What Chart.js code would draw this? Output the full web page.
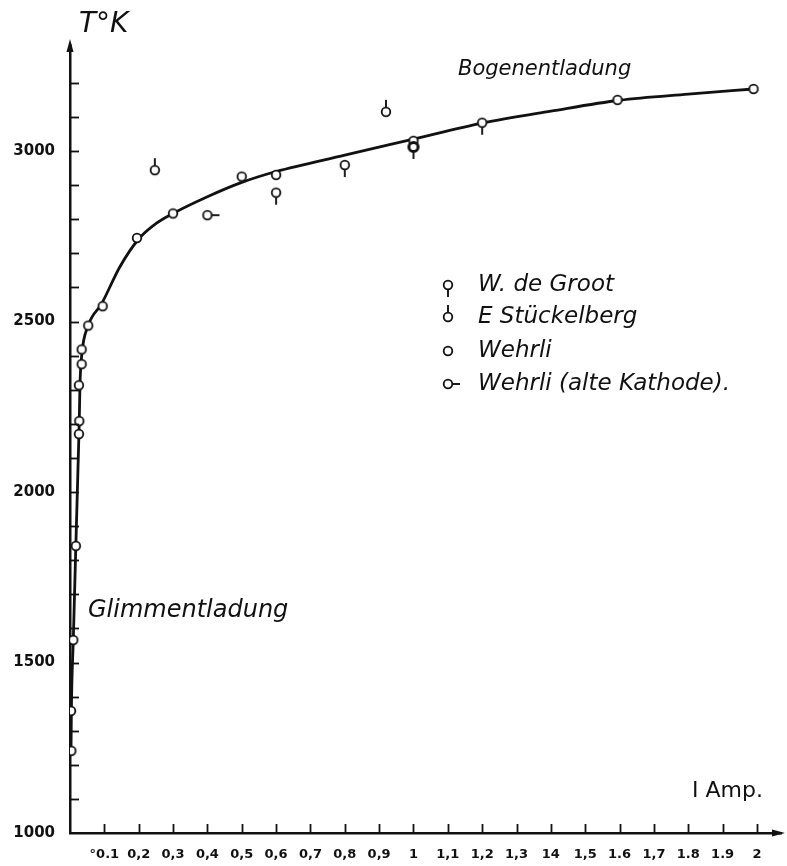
<!DOCTYPE html>
<html>
<head>
<meta charset="utf-8">
<title>T °K gegen I Amp.</title>
<script src="https://cdn.jsdelivr.net/npm/chart.js@4.4.0/dist/chart.umd.min.js"></script>
<style>
    html, body { margin: 0; padding: 0; background: #fff; }
    #wrap { position: relative; width: 787px; height: 866px; }
</style>
</head>
<body>
<div id="wrap"><canvas id="chart"></canvas></div>
<script>
// Tick labels as lettered on the original drawing
const xTickLabels = ['°0.1', '0,2', '0,3', '0,4', '0,5', '0,6', '0,7', '0,8', '0,9', '1',
    '1,1', '1,2', '1,3', '14', '1,5', '1.6', '1,7', '1.8', '1.9', '2'];
const yLabelValues = [1000, 1500, 2000, 2500, 3000];

// Drawn curve
const curveI = [0.003, 0.004, 0.0096, 0.017, 0.026, 0.027, 0.029, 0.034, 0.053, 0.092, 0.145, 0.2, 0.25, 0.3,
    0.4, 0.5, 0.6, 0.8, 1.0, 1.2, 1.4, 1.6, 1.8, 1.99];
const curveT = [1241, 1358, 1566, 1842, 2170, 2210, 2313, 2400, 2488, 2552, 2660, 2742, 2787, 2817,
    2866, 2908, 2940, 2988, 3035, 3082, 3117, 3149, 3167, 3182];

// Measured points
const wehrliI = [0.004, 0.003, 0.0096, 0.017, 0.026, 0.027, 0.026, 0.034, 0.034, 0.053, 0.095, 0.195, 0.3, 0.5, 0.6, 1.0, 1.594, 1.99];
const wehrliT = [1241, 1358, 1566, 1842, 2170, 2208, 2313, 2375, 2418, 2488, 2545, 2745, 2817, 2925, 2930, 3030, 3150, 3182];
const grootI = [0.6, 0.8, 1.0, 1.2];
const grootT = [2878, 2959, 3012, 3083];
const stueckI = [0.247, 0.92];
const stueckT = [2944, 3115];
const altI = [0.4];
const altT = [2812];

const seriesNames = ['W. de Groot', 'E Stückelberg', 'Wehrli', 'Wehrli (alte Kathode).'];

const INK = '#111';

function toXY(xs, ys) {
    return xs.map((x, i) => ({ x: x, y: ys[i] }));
}

// Circle marker with a little stem, like the hand drawn symbols
function makeMarker(stem, bold) {
    const c = document.createElement('canvas');
    c.width = 32;
    c.height = 32;
    const g = c.getContext('2d');
    g.strokeStyle = INK;
    g.lineWidth = 1.9;
    g.beginPath();
    if (stem === 'down') { g.moveTo(16, 20); g.lineTo(16, 28); }
    if (stem === 'up') { g.moveTo(16, 12); g.lineTo(16, 4); }
    if (stem === 'right') { g.moveTo(20, 16); g.lineTo(28, 16); }
    g.stroke();
    g.fillStyle = '#fff';
    g.lineWidth = bold ? 3 : 1.8;
    g.beginPath();
    g.arc(16, 16, bold ? 4.6 : 4.3, 0, Math.PI * 2);
    g.fill();
    g.stroke();
    return c;
}

const markers = [makeMarker('down'), makeMarker('up'), makeMarker(null), makeMarker('right')];
const boldGroot = makeMarker('down', true);

// Ticks, arrows, legend and the hand lettering
const decorations = {
    id: 'decorations',
    afterDraw(chart) {
        const ctx = chart.ctx;
        const x = chart.scales.x;
        const y = chart.scales.y;
        const left = chart.chartArea.left;
        const bottom = chart.chartArea.bottom;
        ctx.save();
        ctx.strokeStyle = INK;
        ctx.fillStyle = INK;
        ctx.lineWidth = 1.8;

        // inward ticks
        for (let v = 1100; v <= 3200; v += 100) {
            const py = Math.round(y.getPixelForValue(v)) + 0.5;
            ctx.beginPath();
            ctx.moveTo(left, py);
            ctx.lineTo(left + 9, py);
            ctx.stroke();
        }
        for (let k = 1; k <= xTickLabels.length; k++) {
            const px = Math.round(x.getPixelForValue(k / 10)) + 0.5;
            ctx.beginPath();
            ctx.moveTo(px, bottom);
            ctx.lineTo(px, bottom - 9);
            ctx.stroke();
        }

        // arrow heads
        ctx.beginPath();
        ctx.moveTo(left, chart.chartArea.top - 6);
        ctx.lineTo(left - 3.5, chart.chartArea.top + 7);
        ctx.lineTo(left + 3.5, chart.chartArea.top + 7);
        ctx.closePath();
        ctx.fill();
        const right = chart.chartArea.right;
        ctx.beginPath();
        ctx.moveTo(right + 4, bottom);
        ctx.lineTo(right - 9, bottom - 3.5);
        ctx.lineTo(right - 9, bottom + 3.5);
        ctx.closePath();
        ctx.fill();

        // axis titles and regions
        ctx.textBaseline = 'alphabetic';
        ctx.textAlign = 'left';
        ctx.font = 'italic 28px "DejaVu Sans"';
        ctx.fillText('T°K', 79, 32);
        ctx.font = '22px "DejaVu Sans"';
        ctx.fillText('I Amp.', 692, 797);
        ctx.font = 'italic 21px "DejaVu Sans"';
        ctx.fillText('Bogenentladung', 458, 75);
        ctx.font = 'italic 24px "DejaVu Sans"';
        ctx.fillText('Glimmentladung', 88, 617);

        // legend
        const rows = [285, 317, 351, 384];
        ctx.font = 'italic 23px "DejaVu Sans"';
        ctx.textBaseline = 'middle';
        seriesNames.forEach((name, i) => {
            ctx.drawImage(markers[i], 448 - 16, rows[i] - 16);
            ctx.fillText(name, 478, rows[i]);
        });
        ctx.restore();
    }
};

const ctx = document.getElementById('chart').getContext('2d');
new Chart(ctx, {
    type: 'scatter',
    data: {
        datasets: [
            {
                label: seriesNames[0],
                data: toXY(grootI, grootT),
                pointStyle: c => (grootI[c.dataIndex] === 1.0 ? boldGroot : markers[0]),
                pointRadius: 5
            },
            { label: seriesNames[1], data: toXY(stueckI, stueckT), pointStyle: markers[1], pointRadius: 5 },
            { label: seriesNames[2], data: toXY(wehrliI, wehrliT), pointStyle: markers[2], pointRadius: 5 },
            { label: seriesNames[3], data: toXY(altI, altT), pointStyle: markers[3], pointRadius: 5 },
            {
                label: 'Kurve',
                type: 'line',
                data: toXY(curveI, curveT),
                borderColor: INK,
                borderWidth: 2.8,
                pointRadius: 0,
                fill: false,
                cubicInterpolationMode: 'monotone'
            }
        ]
    },
    options: {
        responsive: true,
        maintainAspectRatio: false,
        animation: false,
        layout: { padding: { left: 0, right: 5, top: 45, bottom: 0 } },
        plugins: {
            legend: { display: false },
            tooltip: { enabled: false }
        },
        scales: {
            x: {
                type: 'linear',
                min: 0,
                max: 2.07,
                grid: { display: false, drawTicks: false },
                border: { display: true, color: INK, width: 2.5 },
                afterFit: function(scale) { scale.height = 33; },
                afterBuildTicks: function(scale) {
                    scale.ticks = xTickLabels.map((label, i) => ({ value: (i + 1) / 10 }));
                },
                ticks: {
                    autoSkip: false,
                    maxRotation: 0,
                    padding: 14,
                    color: INK,
                    font: { family: 'DejaVu Sans', size: 13, weight: 'bold' },
                    callback: function(value, index) {
                        return xTickLabels[index];
                    }
                }
            },
            y: {
                type: 'linear',
                min: 1000,
                max: 3311,
                grid: { display: false, drawTicks: false },
                border: { display: true, color: INK, width: 2.5 },
                afterFit: function(scale) { scale.width = 70; },
                ticks: {
                    stepSize: 100,
                    padding: 15,
                    color: INK,
                    font: { family: 'DejaVu Sans', size: 15, weight: 'bold' },
                    callback: function(value) {
                        return yLabelValues.includes(value) ? String(value) : '';
                    }
                }
            }
        }
    },
    plugins: [decorations]
});
</script>
</body>
</html>
